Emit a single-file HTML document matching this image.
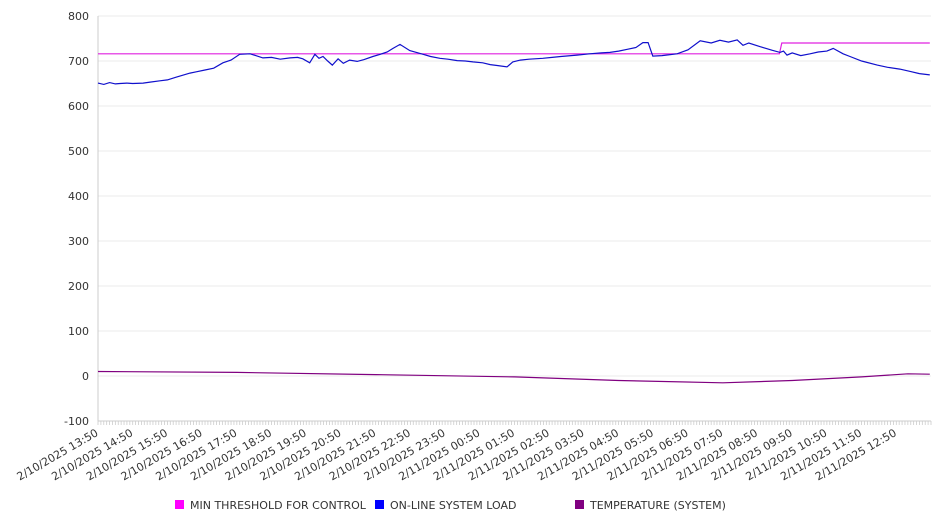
<!DOCTYPE html>
<html><head><meta charset="utf-8"><style>
body{margin:0;background:#fff;font-family:"DejaVu Sans","Liberation Sans",sans-serif}
</style></head><body>
<svg id="c" width="946" height="526" xmlns="http://www.w3.org/2000/svg" style="display:block;font-family:'DejaVu Sans','Liberation Sans',sans-serif"></svg>
<script>
const yTicks=[-100,0,100,200,300,400,500,600,700,800];
const xLabels=["2/10/2025 13:50","2/10/2025 14:50","2/10/2025 15:50","2/10/2025 16:50","2/10/2025 17:50","2/10/2025 18:50","2/10/2025 19:50","2/10/2025 20:50","2/10/2025 21:50","2/10/2025 22:50","2/10/2025 23:50","2/11/2025 00:50","2/11/2025 01:50","2/11/2025 02:50","2/11/2025 03:50","2/11/2025 04:50","2/11/2025 05:50","2/11/2025 06:50","2/11/2025 07:50","2/11/2025 08:50","2/11/2025 09:50","2/11/2025 10:50","2/11/2025 11:50","2/11/2025 12:50"];
const loadMin=[0,10,20,30,38,50,60,78,90,107,120,135,159,170,185,200,216,230,245,263,285,300,315,332,345,354,366,375,382,389,397,405,415,424,435,448,460,475,488,500,510,522,539,562,575,591,605,621,635,648,665,678,690,707,717,730,745,769,785,800,828,850,870,885,900,915,930,942,951,959,975,1001,1020,1041,1060,1075,1090,1105,1115,1125,1144,1155,1165,1179,1185,1191,1200,1215,1231,1245,1260,1271,1288,1300,1320,1347,1365,1386,1404,1420,1438];
const loadVal=[651,648,652,649,650,651,650,651,653,656,658,664,673,676,680,684,696,702,715,716,707,708,704,707,708,705,696,715,706,710,700,691,705,695,702,699,703,710,715,720,728,737,723,715,710,706,704,701,700,698,696,692,690,687,698,702,704,706,708,710,713,716,718,719,722,726,730,741,741,711,712,716,725,745,740,746,742,747,735,740,732,728,724,719,722,713,718,712,716,720,722,728,716,710,700,691,686,682,677,672,669];
const thrMin=[0,1178,1182,1438];
const thrVal=[716,716,740,740];
const tempMin=[0,240,480,720,900,1080,1200,1320,1400,1438];
const tempVal=[10,8,3,-2,-10,-15,-10,-2,5,4];

const svg=document.getElementById('c');const NS='http://www.w3.org/2000/svg';
const X0=98,X1=931,Y0=421,Y1=16;
const xs=m=>X0+m*(X1-X0)/1440;
const ys=v=>Y0-(v+100)*(Y0-Y1)/900;
function el(t,a,p){const e=document.createElementNS(NS,t);for(const k in a)e.setAttribute(k,a[k]);(p||svg).appendChild(e);return e;}
yTicks.forEach(v=>{
  const g=el('line',{x1:X0,x2:X1,y1:ys(v),y2:ys(v),stroke:'#ebebeb','stroke-width':1});
  
  
  const t=el('text',{x:89,y:ys(v)+4,'text-anchor':'end','font-size':11,fill:'#333'});
  t.textContent=v;
  
  
});
const ax=el('line',{x1:X0,x2:X0,y1:Y1,y2:Y0,stroke:'#ccc'});


const bx=el('line',{x1:X0,x2:X1,y1:Y0,y2:Y0,stroke:'#ccc'});


for(let m=0;m<=1440;m+=5){const t=el('line',{x1:xs(m),x2:xs(m),y1:Y0,y2:Y0+4,stroke:'#ccc','stroke-width':0.8});
  
  }
xLabels.forEach((l,i)=>{const x=xs(i*60)+1;
  const t=el('text',{x:x,y:Y0+14,'text-anchor':'end','font-size':11,fill:'#333',transform:`rotate(-30 ${x} ${Y0+14})`});
  t.textContent=l;
  
  });
function line(ms,vs,c,name){const d=ms.map((m,i)=>(i?'L':'M')+xs(m).toFixed(1)+' '+ys(vs[i]).toFixed(1)).join(' ');
  const p=el('path',{d:d,fill:'none',stroke:c,'stroke-width':1.2});
  
  }
line(thrMin,thrVal,'#e020e0','min-threshold-line');
line(loadMin,loadVal,'#1010cc','online-system-load-line');
line(tempMin,tempVal,'#800080','temperature-line');
const leg=[['MIN THRESHOLD FOR CONTROL','#ff00ff',175],['ON-LINE SYSTEM LOAD','#0000ff',375],['TEMPERATURE (SYSTEM)','#800080',575]];
leg.forEach(([t,c,x])=>{const g=el('g',{});
  
  
  el('rect',{x:x,y:500,width:9,height:9,fill:c},g);
  const tx=el('text',{x:x+15,y:509,'font-size':11,fill:'#333'},g);tx.textContent=t;});
</script>
</body></html>
